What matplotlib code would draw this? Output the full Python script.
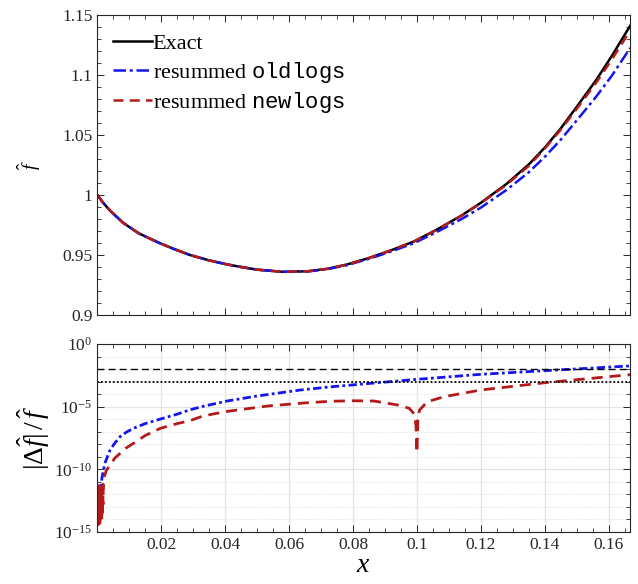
import matplotlib
matplotlib.use("Agg")
import matplotlib.pyplot as plt
import numpy as np
from matplotlib.ticker import FixedLocator, MultipleLocator, FuncFormatter, NullFormatter

# --- data ------------------------------------------------------------------
# top panel: f-hat against x
x_top = [0.0, 0.002, 0.004, 0.008, 0.013, 0.019, 0.024, 0.029, 0.035, 0.040,
         0.045, 0.050, 0.058, 0.066, 0.072, 0.078, 0.085, 0.092, 0.099, 0.106,
         0.114, 0.120, 0.128, 0.135, 0.140, 0.145, 0.150, 0.156, 0.161, 0.1667]
f_exact = [1.000, 0.993, 0.987, 0.977, 0.968, 0.9605, 0.955, 0.950, 0.9455, 0.9425,
           0.940, 0.9378, 0.9360, 0.9365, 0.9385, 0.9420, 0.9475, 0.9540, 0.9612, 0.9708,
           0.9830, 0.9935, 1.0092, 1.0255, 1.0395, 1.0555, 1.0735, 1.0955, 1.1160, 1.1410]
f_old = [1.000, 0.993, 0.987, 0.977, 0.968, 0.9605, 0.955, 0.950, 0.9455, 0.9425,
         0.940, 0.9378, 0.9360, 0.9363, 0.9382, 0.9415, 0.9468, 0.9530, 0.9598, 0.9689,
         0.9800, 0.9895, 1.0042, 1.0190, 1.0318, 1.0461, 1.0622, 1.0817, 1.0995, 1.1225]
f_new = [1.000, 0.993, 0.987, 0.977, 0.968, 0.9605, 0.955, 0.950, 0.9455, 0.9425,
         0.940, 0.9378, 0.9360, 0.9365, 0.9385, 0.9420, 0.9475, 0.9540, 0.9612, 0.9708,
         0.9828, 0.9932, 1.0085, 1.0243, 1.0387, 1.0544, 1.0718, 1.0933, 1.1130, 1.1370]

# bottom panel: log10 |df/f|
x_err_old = [0.0006, 0.00085, 0.0015, 0.0024, 0.003, 0.004, 0.0055, 0.0071, 0.009,
             0.0113, 0.015, 0.0197, 0.025, 0.029, 0.033, 0.0406, 0.050, 0.0636,
             0.073, 0.085, 0.100, 0.120, 0.140, 0.155, 0.1667]
lg_err_old = [-12.3, -11.8, -10.6, -9.5, -9.1, -8.46, -7.9, -7.4, -7.05,
              -6.73, -6.35, -5.99, -5.6, -5.25, -4.98, -4.55, -4.15, -3.67,
              -3.42, -3.15, -2.82, -2.42, -2.13, -1.92, -1.75]

x_err_new = [0.0001, 0.0002, 0.0003, 0.0004, 0.0005, 0.0006, 0.0007, 0.0008, 0.0009,
             0.0010, 0.0011, 0.0012, 0.0013, 0.0014, 0.0015, 0.0016, 0.0017, 0.0018,
             0.0019, 0.0028, 0.004, 0.0055, 0.0071, 0.009, 0.0113, 0.015, 0.0197,
             0.025, 0.029, 0.033, 0.040, 0.0532, 0.065, 0.073, 0.080, 0.0866, 0.094,
             0.0976, 0.0992, 0.0997, 0.1000, 0.1003, 0.1008, 0.1033, 0.1086, 0.120,
             0.140, 0.155, 0.1667]
lg_err_new = [-11.4, -14.2, -11.8, -14.4, -11.3, -13.9, -12.0, -14.3, -11.5,
              -14.0, -11.6, -13.8, -11.4, -14.1, -11.7, -13.6, -11.2, -12.8,
              -10.85, -10.1, -9.66, -9.1, -8.73, -8.3, -7.93, -7.3, -6.73,
              -6.35, -6.12, -5.75, -5.4, -4.95, -4.7, -4.57, -4.53, -4.55, -4.87,
              -5.13, -5.6, -6.5, -8.67, -6.0, -5.27, -4.6, -4.2, -3.67,
              -3.09, -2.73, -2.45]

tol_dashed = 1e-2
tol_dotted = 1e-3

# --- style ------------------------------------------------------------------
plt.rcParams["font.family"] = ["Liberation Serif", "DejaVu Serif"]
plt.rcParams["mathtext.fontset"] = "custom"
plt.rcParams["mathtext.rm"] = "Liberation Serif"
plt.rcParams["mathtext.it"] = "Liberation Serif:italic"
plt.rcParams["mathtext.bf"] = "Liberation Serif:bold"
plt.rcParams["mathtext.tt"] = "Liberation Mono"
plt.rcParams["mathtext.fallback"] = "stix"

C_EXACT = "black"
C_OLD = "#1414f0"
C_NEW = "#b31b1b"
AX_COL = "#262626"

fig = plt.figure(figsize=(6.38, 5.84), dpi=100)
ax1 = fig.add_axes([0.1525, 0.4606, 0.835, 0.5137])
ax2 = fig.add_axes([0.1525, 0.089, 0.835, 0.322])

xmax = 1 / 6

# top panel
ax1.plot(x_top, f_exact, color=C_EXACT, lw=1.8, label="Exact")
ax1.plot(x_top, f_old, color=C_OLD, lw=1.8, ls=(0, (5, 1.5, 1.2, 1.5)),
         label=r"resummed $\mathtt{oldlogs}$")
ax1.plot(x_top, f_new, color=C_NEW, lw=1.8, ls=(0, (4, 2.5)),
         label=r"resummed $\mathtt{newlogs}$")
ax1.set_xlim(0, xmax)
ax1.set_ylim(0.9, 1.15)
ax1.xaxis.set_major_locator(MultipleLocator(0.02))
ax1.xaxis.set_minor_locator(MultipleLocator(0.005))
ax1.yaxis.set_major_locator(MultipleLocator(0.05))
ax1.yaxis.set_minor_locator(MultipleLocator(0.01))
ax1.yaxis.set_major_formatter(FuncFormatter(lambda v, p: f"{v:g}"))
ax1.tick_params(labelbottom=False)
ax1.set_ylabel(r"$\hat{f}$", fontsize=14, labelpad=14)
leg = ax1.legend(loc="upper left", frameon=False, fontsize=16,
                 handlelength=1.75, handletextpad=0.05, labelspacing=0.25,
                 borderaxespad=0.3, bbox_to_anchor=(0.0, 0.99))

# bottom panel
ax2.plot(x_err_old, 10.0 ** np.array(lg_err_old), color=C_OLD, lw=2.0,
         ls=(0, (3, 1.2, 1, 1.2)))
ax2.plot(x_err_new, 10.0 ** np.array(lg_err_new), color=C_NEW, lw=2.0,
         ls=(0, (4, 2.5)))
ax2.axhline(tol_dashed, color="black", lw=1.0, ls=(0, (5, 3)))
ax2.axhline(tol_dotted, color="black", lw=1.3, ls=(0, (1, 1.2)))
ax2.set_yscale("log")
ax2.set_xlim(0, xmax)
ax2.set_ylim(1e-15, 1e0)
ax2.xaxis.set_major_locator(MultipleLocator(0.02))
ax2.xaxis.set_minor_locator(MultipleLocator(0.005))
ax2.xaxis.set_major_formatter(FuncFormatter(lambda v, p: "" if abs(v) < 1e-9 else f"{v:g}"))
ax2.yaxis.set_major_locator(FixedLocator([1e-15, 1e-10, 1e-5, 1e0]))
ax2.yaxis.set_minor_locator(FixedLocator([10.0 ** k for k in range(-15, 1)]))
ax2.yaxis.set_major_formatter(FuncFormatter(lambda v, p: r"$10^{%d}$" % round(np.log10(v))))
ax2.yaxis.set_minor_formatter(NullFormatter())
ax2.grid(True, which="major", color="#e3e3e3", lw=0.9)
ax2.grid(True, which="minor", axis="y", color="#d5d5d5", lw=0.7, ls=(0, (1, 2)))
ax2.set_axisbelow(True)
ax2.set_xlabel(r"$x$", fontsize=20, labelpad=0)
ax2.set_ylabel(r"$|\Delta\hat{f}|\,/\,\hat{f}$", fontsize=20, labelpad=2)

for ax in (ax1, ax2):
    ax.tick_params(which="both", direction="in", top=True, right=True,
                   colors=AX_COL, labelcolor="#262626", labelsize=12.5)
    ax.tick_params(which="major", length=5, width=0.7)
    ax.tick_params(which="minor", length=3, width=0.6)
    for s in ax.spines.values():
        s.set_color(AX_COL)
        s.set_linewidth(0.8)

fig.savefig("out.png", dpi=100)
